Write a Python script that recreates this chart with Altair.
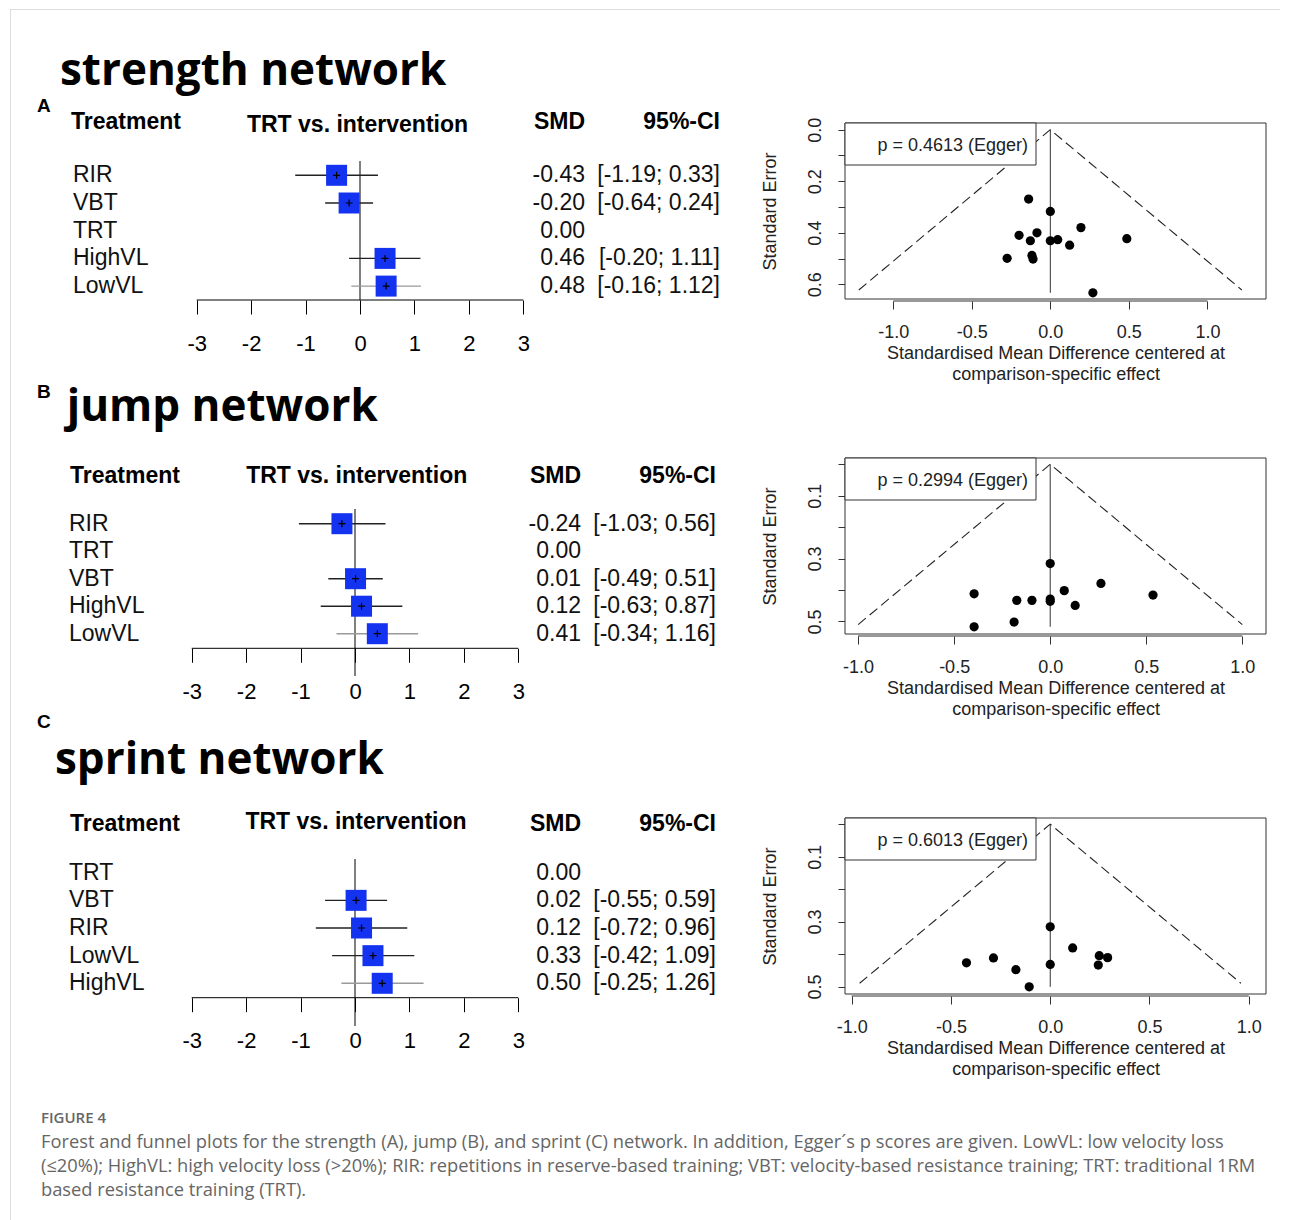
import altair as alt
import pandas as pd

# ---------------- data ----------------
A_treat = ["RIR", "VBT", "TRT", "HighVL", "LowVL"]
A_smd = [-0.43, -0.20, 0.00, 0.46, 0.48]
A_lo = [-1.19, -0.64, None, -0.20, -0.16]
A_hi = [0.33, 0.24, None, 1.11, 1.12]

B_treat = ["RIR", "TRT", "VBT", "HighVL", "LowVL"]
B_smd = [-0.24, 0.00, 0.01, 0.12, 0.41]
B_lo = [-1.03, None, -0.49, -0.63, -0.34]
B_hi = [0.56, None, 0.51, 0.87, 1.16]

C_treat = ["TRT", "VBT", "RIR", "LowVL", "HighVL"]
C_smd = [0.00, 0.02, 0.12, 0.33, 0.50]
C_lo = [None, -0.55, -0.72, -0.42, -0.25]
C_hi = [None, 0.59, 0.96, 1.09, 1.26]

A_fx = [-0.138, 0.000, -0.199, -0.085, -0.127, 0.000, 0.047, 0.195, 0.123, 0.487, -0.275, -0.117, -0.110, 0.271]
A_fse = [0.269, 0.317, 0.410, 0.400, 0.431, 0.431, 0.427, 0.380, 0.448, 0.423, 0.499, 0.488, 0.502, 0.633]
A_egger = "p = 0.4613 (Egger)"
A_semax = 0.622

B_fx = [0.000, 0.264, 0.073, -0.396, 0.535, -0.174, -0.095, 0.000, 0.000, 0.130, -0.188, -0.396]
B_fse = [0.316, 0.379, 0.402, 0.412, 0.416, 0.433, 0.433, 0.429, 0.436, 0.449, 0.502, 0.517]
B_egger = "p = 0.2994 (Egger)"
B_semax = 0.510

C_fx = [0.000, 0.113, 0.247, 0.289, -0.286, -0.422, 0.000, 0.242, -0.173, -0.106]
C_fse = [0.316, 0.381, 0.405, 0.411, 0.412, 0.427, 0.432, 0.434, 0.448, 0.501]
C_egger = "p = 0.6013 (Egger)"
C_semax = 0.490

forest_ticks = [-3, -2, -1, 0, 1, 2, 3]
funnel_xticks = [-1.0, -0.5, 0.0, 0.5, 1.0]

caption_head = "FIGURE 4"
caption_lines = [
    "Forest and funnel plots for the strength (A), jump (B), and sprint (C) network. In addition, Egger\u00b4s p scores are given. LowVL: low velocity loss",
    "(\u226420%); HighVL: high velocity loss (>20%); RIR: repetitions in reserve-based training; VBT: velocity-based resistance training; TRT: traditional 1RM",
    "based resistance training (TRT).",
]

# ---------------- style ----------------
FONT = "Liberation Sans"
TFONT = "Open Sans"
CFONT = "Open Sans"
BLUE = "#1433f0"
FW = 837
FUN_W, FUN_BOX_H = 421, 176

one = pd.DataFrame({"k": [0]})


def txt(text, x, y, size, weight="normal", align="left", baseline="alphabetic",
        font=FONT, color="black"):
    return alt.Chart(one).mark_text(
        text=text, align=align, baseline=baseline, fontSize=size,
        fontWeight=weight, font=font, color=color
    ).encode(x=alt.value(x), y=alt.value(y))


def forest(treat, smd, lo, hi, c, extra=None):
    n = len(treat)
    rows = pd.DataFrame({
        "treat": treat, "smd": smd, "idx": list(range(n)),
        "smd_s": [f"{v:.2f}" for v in smd],
        "ci_s": ["" if l is None else f"[{l:.2f}; {h:.2f}]" for l, h in zip(lo, hi)],
    })
    ci = pd.DataFrame([
        {"idx": i, "smd": s, "lo": l, "hi": h}
        for i, (s, l, h) in enumerate(zip(smd, lo, hi)) if l is not None
    ])
    H = c["H"]
    ppu = (c["x3"] - c["xm3"]) / 6.0
    e0 = -3 - c["xm3"] / ppu
    e1 = e0 + FW / ppu
    xs = alt.Scale(domain=[e0, e1], nice=False, zero=False)
    d0 = -c["r0"] / c["sp"]
    d1 = d0 + H / c["sp"]
    ys = alt.Scale(domain=[d0, d1], nice=False, zero=False, reverse=True)
    xax = alt.Axis(
        values=forest_ticks, labelExpr="'' + datum.value", orient="bottom",
        offset=c["axis_y"] - H, domain=False, ticks=True, tickSize=14,
        tickColor="black", tickWidth=1, labelFontSize=22, labelFont=FONT,
        labelColor="black", labelPadding=c["lab_pad"], grid=False, title=None)

    def X(f):
        return alt.X(f, scale=xs, axis=xax)

    def Y(f):
        return alt.Y(f, scale=ys, axis=None)

    zero = alt.Chart(pd.DataFrame({"z": [0]})).mark_rule(color="black", strokeWidth=1).encode(
        x=X("z:Q"), y=alt.value(c["z0"]), y2=alt.value(c["z1"]))
    axline = alt.Chart(pd.DataFrame({"a": [forest_ticks[0]], "b": [forest_ticks[-1]]})).mark_rule(
        color="black", strokeWidth=1).encode(x=X("a:Q"), x2="b:Q", y=alt.value(c["axis_y"]))
    cil = alt.Chart(ci).mark_rule(strokeWidth=1.4).encode(
        x=X("lo:Q"), x2="hi:Q", y=Y("idx:Q"),
        color=alt.condition(f"datum.idx == {n - 1}", alt.value("#9a9a9a"), alt.value("#222222")))
    sq = alt.Chart(ci).mark_square(size=441, color=BLUE, opacity=1).encode(x=X("smd:Q"), y=Y("idx:Q"))
    cross = alt.Chart(ci).mark_point(shape="M-1,0H1M0,-1V1", size=49, filled=False,
                                     stroke="black", strokeWidth=1.2, opacity=1).encode(
        x=X("smd:Q"), y=Y("idx:Q"))
    labs = alt.Chart(rows).mark_text(align="left", baseline="middle", fontSize=23, font=FONT,
                                     color="#111").encode(
        x=alt.value(c["lab_x"]), y=Y("idx:Q"), text="treat:N")
    smdt = alt.Chart(rows).mark_text(align="right", baseline="middle", fontSize=23, font=FONT,
                                     color="#111").encode(
        x=alt.value(c["smd_x"]), y=Y("idx:Q"), text="smd_s:N")
    cit = alt.Chart(rows).mark_text(align="right", baseline="middle", fontSize=23, font=FONT,
                                    color="#111").encode(
        x=alt.value(c["ci_x"]), y=Y("idx:Q"), text="ci_s:N")
    hdr = [
        txt("Treatment", c["hdr_treat_x"], c["hdr_y"], 23, "bold"),
        txt("TRT vs. intervention", c["hdr_mid_x"], c["hdr_mid_y"], 23, "bold", align="center"),
        txt("SMD", c["smd_x"], c["hdr_y"], 23, "bold", align="right"),
        txt("95%-CI", c["ci_x"], c["hdr_y"], 23, "bold", align="right"),
        txt(c["title"], c["title_x"], c["title_y"], 44, "bold", font=TFONT),
        txt(c["letter"], c["letter_x"], c["letter_y"], 19, "bold"),
    ]
    layers = [zero, axline, cil, sq, cross, labs, smdt, cit] + hdr
    if extra:
        layers += extra
    return alt.layer(*layers).properties(width=FW, height=H)


def funnel(fx, fse, egger, semax, c, H, top):
    bh = FUN_BOX_H
    xs = alt.Scale(domain=c["xdom"], nice=False, zero=False)
    yd0, yd1 = c["ydom"]
    ppy = bh / (yd1 - yd0)
    D0 = yd0 - top / ppy
    D1 = D0 + H / ppy
    ys = alt.Scale(domain=[D0, D1], nice=False, zero=False, reverse=True)
    pts = pd.DataFrame({"x": fx, "se": fse})
    tri = pd.DataFrame({"x": [-1.96 * semax, 0.0, 1.96 * semax], "se": [semax, 0.0, semax], "o": [0, 1, 2]})
    vl = pd.DataFrame({"x": [0.0], "s0": [0.0], "s1": [max(fse)]})
    parity = 1 if c["odd"] else 0
    yaxis = alt.Axis(
        values=c["yvals"], labelExpr=f"round(datum.value*10) % 2 == {parity} ? format(datum.value, '.1f') : ''",
        labelAngle=270, labelAlign="center", labelBaseline="bottom", tickSize=7, tickColor="#333",
        domain=False, grid=False, labelFontSize=18, labelFont=FONT, labelColor="#222", labelPadding=14,
        title="Standard Error", titleFontSize=18, titleFont=FONT, titleFontWeight="normal",
        titleColor="#222", titleAngle=270, titleAlign="center", titleBaseline="bottom",
        titleX=-66, titleY=top + bh / 2)
    xaxis = alt.Axis(
        values=funnel_xticks, labelExpr="replace(format(datum.value, '.1f'), '\u2212', '-')",
        offset=top + bh + 2 - H, tickSize=8, tickColor="#333", domain=False, grid=False,
        labelFontSize=18, labelFont=FONT, labelColor="#222", labelPadding=14,
        title=["Standardised Mean Difference centered at", "comparison-specific effect"],
        titleFontSize=18, titleFont=FONT, titleFontWeight="normal", titleColor="#222",
        titlePadding=3, titleLineHeight=21)

    def X(f):
        return alt.X(f, scale=xs, axis=xaxis)

    def Y(f):
        return alt.Y(f, scale=ys, axis=yaxis)

    box = alt.Chart(one).mark_rect(fill="white", stroke="#333", strokeWidth=1).encode(
        x=alt.value(0), x2=alt.value(FUN_W), y=alt.value(top), y2=alt.value(top + bh))
    trl = alt.Chart(tri).mark_line(strokeDash=[10, 5], color="#222", strokeWidth=1.1).encode(
        x=X("x:Q"), y=Y("se:Q"), order="o:Q")
    vrl = alt.Chart(vl).mark_rule(color="#333", strokeWidth=1).encode(
        x=X("x:Q"), y=Y("s0:Q"), y2="s1:Q")
    dots = alt.Chart(pts).mark_circle(size=85, color="black", opacity=1).encode(
        x=X("x:Q"), y=Y("se:Q"))
    axl = alt.Chart(pd.DataFrame({"a": [funnel_xticks[0]], "b": [funnel_xticks[-1]]})).mark_rule(
        color="#333", strokeWidth=1).encode(x=X("a:Q"), x2="b:Q", y=alt.value(top + bh + 2))
    leg = alt.Chart(one).mark_rect(fill="white", stroke="#333", strokeWidth=1).encode(
        x=alt.value(0), x2=alt.value(191), y=alt.value(top), y2=alt.value(top + 42))
    legt = txt(egger, 183, top + 22.5, 18, align="right", baseline="middle", color="#222")
    return alt.layer(box, trl, vrl, dots, axl, leg, legt).properties(width=FUN_W, height=H)


cA = dict(H=367, xm3=188.7, x3=515.3, r0=166.3, sp=27.7, z0=152, z1=291, axis_y=291, lab_pad=19,
          lab_x=65, smd_x=577, ci_x=712, hdr_treat_x=63, hdr_y=120, hdr_mid_x=349.5, hdr_mid_y=123,
          title="strength network", title_x=52, title_y=76, letter="A", letter_x=29, letter_y=103)
cB = dict(H=330, xm3=183.7, x3=510.3, r0=147.7, sp=27.5, z0=133, z1=300, axis_y=272.3, lab_pad=19,
          lab_x=61, smd_x=573, ci_x=708, hdr_treat_x=62, hdr_y=107, hdr_mid_x=348.7, hdr_mid_y=107,
          title="jump network", title_x=58.7, title_y=45, letter="B", letter_x=29, letter_y=22)
cC = dict(H=385, xm3=183.7, x3=510.3, r0=166.7, sp=27.65, z0=153, z1=320, axis_y=291.7, lab_pad=19,
          lab_x=61, smd_x=573, ci_x=708, hdr_treat_x=62, hdr_y=125, hdr_mid_x=348, hdr_mid_y=123,
          title="sprint network", title_x=47, title_y=68.3, letter="C", letter_x=29, letter_y=22.3)

fA = dict(xdom=[-1.307, 1.373], ydom=[-0.026, 0.657], yvals=[0, 0.1, 0.2, 0.3, 0.4, 0.5, 0.6], odd=False)
fB = dict(xdom=[-1.068, 1.123], ydom=[-0.020, 0.540], yvals=[0, 0.1, 0.2, 0.3, 0.4, 0.5], odd=True)
fC = dict(xdom=[-1.034, 1.087], ydom=[-0.019, 0.523], yvals=[0, 0.1, 0.2, 0.3, 0.4, 0.5], odd=True)

border = [
    alt.Chart(one).mark_rule(color="#dddddd", strokeWidth=1).encode(
        x=alt.value(2), x2=alt.value(1272), y=alt.value(0.5)),
    alt.Chart(one).mark_rule(color="#dddddd", strokeWidth=1).encode(
        x=alt.value(2.5), y=alt.value(0), y2=alt.value(1212)),
]

forestA = forest(A_treat, A_smd, A_lo, A_hi, cA, extra=border)
forestB = forest(B_treat, B_smd, B_lo, B_hi, cB)
forestC = forest(C_treat, C_smd, C_lo, C_hi, cC)

funA = funnel(A_fx, A_fse, A_egger, A_semax, fA, cA["H"], 114)
funB = funnel(B_fx, B_fse, B_egger, B_semax, fB, cB["H"], 82)
funC = funnel(C_fx, C_fse, C_egger, C_semax, fC, cC["H"], 112)

CAP_COLOR = "#666666"
caption = alt.layer(
    txt(caption_head, 33, 32, 15, 600, font=CFONT, color=CAP_COLOR),
    txt(caption_lines[0], 33, 57, 18.3, font=CFONT, color=CAP_COLOR),
    txt(caption_lines[1], 33, 81, 18.3, font=CFONT, color=CAP_COLOR),
    txt(caption_lines[2], 33, 105, 18.3, font=CFONT, color=CAP_COLOR),
).properties(width=FW, height=118)

empty = alt.Chart(one).mark_rect(opacity=0).encode(
    x=alt.value(0), x2=alt.value(1), y=alt.value(0), y2=alt.value(1)).properties(width=FUN_W, height=118)

chart = alt.concat(
    forestA, funA, forestB, funB, forestC, funC, caption, empty,
    columns=2, spacing=0, bounds="flush", align="each",
).properties(padding=0).configure_view(stroke=None)

chart.save("out.html", embed_options={"renderer": "svg", "actions": False})
